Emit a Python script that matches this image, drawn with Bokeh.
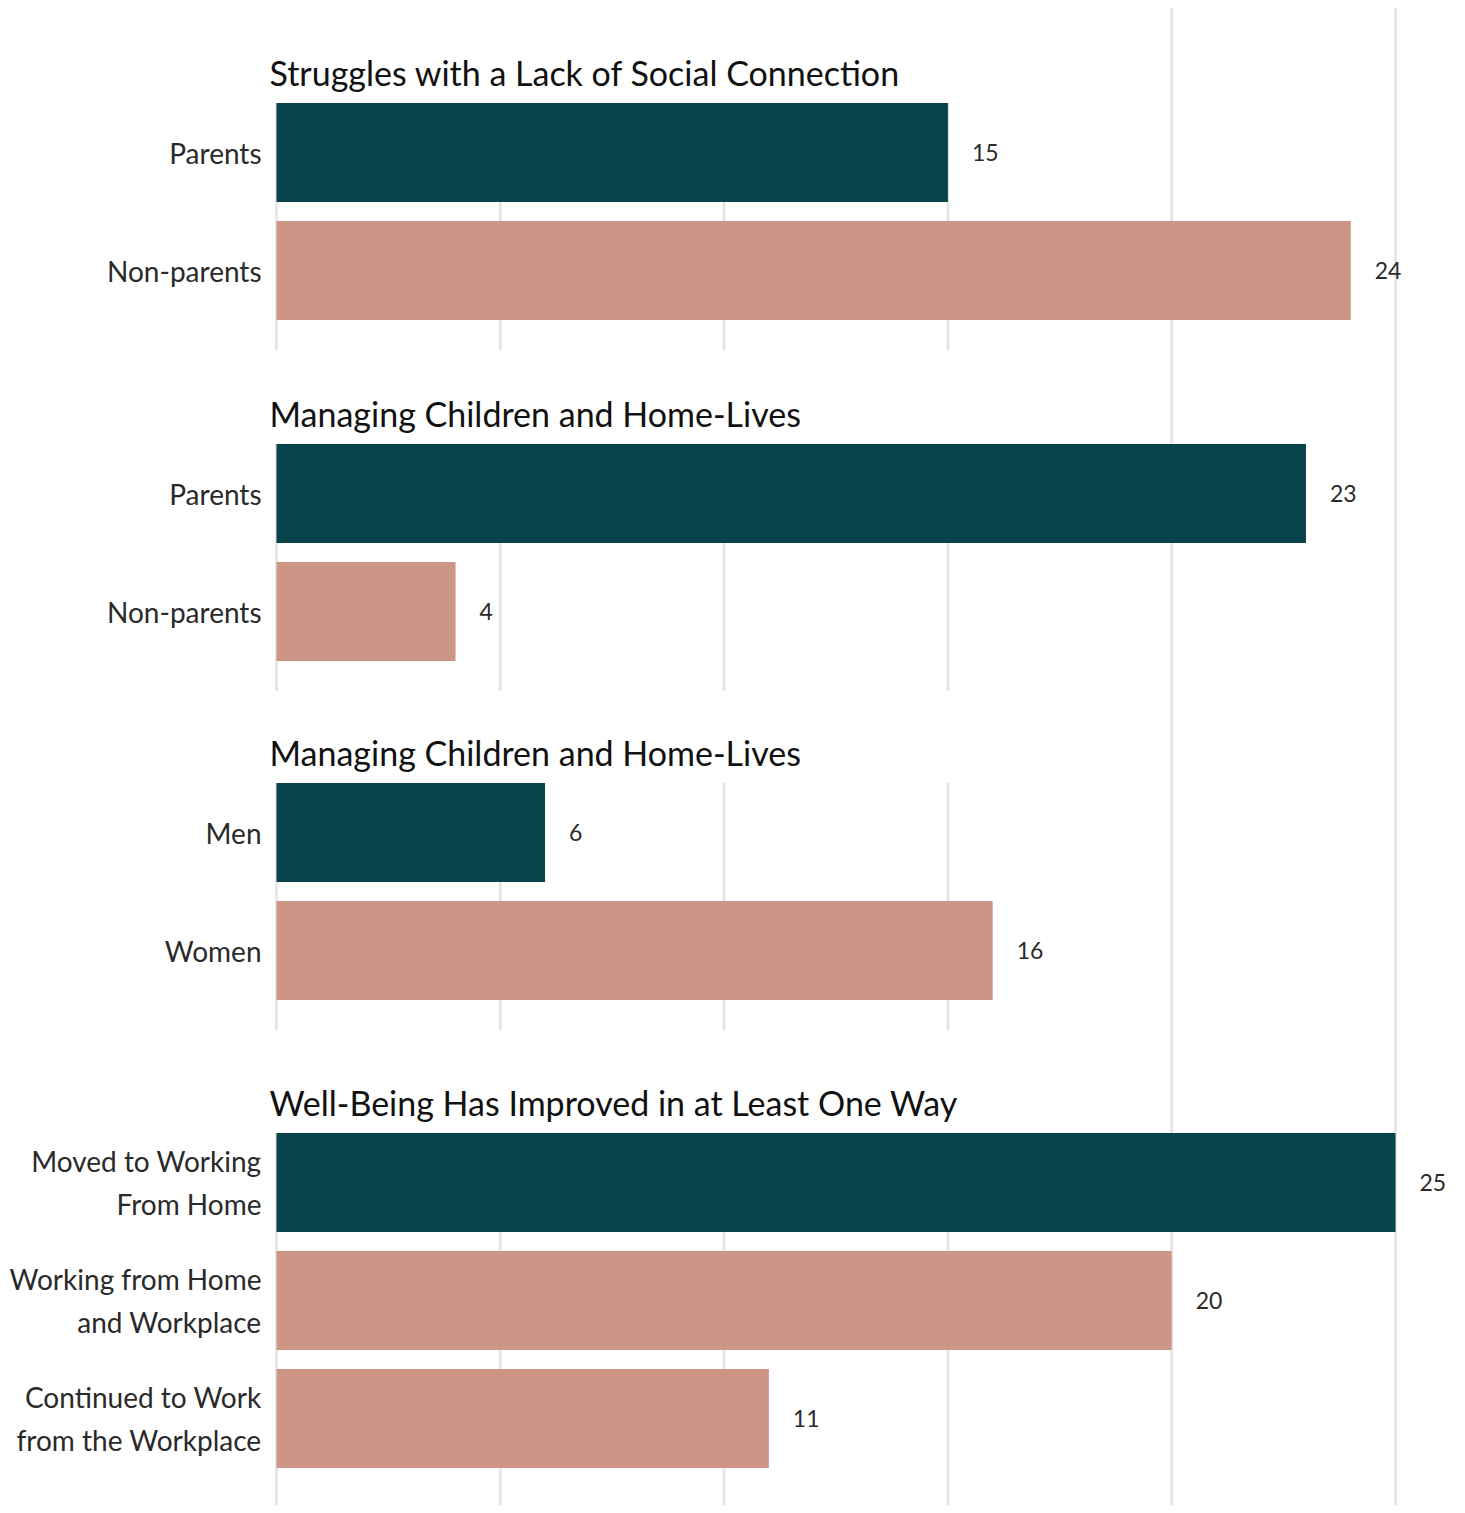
from bokeh.plotting import figure
from bokeh.models import Range1d, ColumnDataSource
from bokeh.core.properties import value
from bokeh.embed import file_html
from bokeh.resources import INLINE

# ---------------- data ----------------
TITLES = [
    "Struggles with a Lack of Social Connection",
    "Managing Children and Home-Lives",
    "Managing Children and Home-Lives",
    "Well-Being Has Improved in at Least One Way",
]
CATS_1 = ["Parents", "Non-parents"]
VALS_1 = [15, 24]
CATS_2 = ["Parents", "Non-parents"]
VALS_2 = [23, 4]
CATS_3 = ["Men", "Women"]
VALS_3 = [6, 16]
CATS_4 = ["Moved to Working\nFrom Home", "Working from Home\nand Workplace",
          "Continued to Work\nfrom the Workplace"]
VALS_4 = [25, 20, 11]
TICKS = [0, 5, 10, 15, 20, 25]

PANELS = [(TITLES[0], CATS_1, VALS_1), (TITLES[1], CATS_2, VALS_2),
          (TITLES[2], CATS_3, VALS_3), (TITLES[3], CATS_4, VALS_4)]

# ---------------- layout (pixels) ----------------
W, H = 1457, 1505
ZERO_PX = 276                    # x pixel of value 0
PX_PER_UNIT = 1119 / 25
TOP, BOTTOM = 0, H
FIRST_TITLE = 72
TITLE_TO_BAR = 80
PITCH = 118
BAR_H = 99
GAPS = [143, 141, 152]

TEAL = "#07434A"
SALMON = "#CC9585"
GRID = "#e6e6e6"
FONT = "Lato"

xs = -ZERO_PX / PX_PER_UNIT
xe = xs + W / PX_PER_UNIT

p = figure(width=W, height=H, output_backend="svg", toolbar_location=None,
           x_range=Range1d(xs, xe), y_range=Range1d(BOTTOM, TOP),
           min_border=0)
p.axis.visible = False
p.grid.visible = False
p.outline_line_color = None
p.background_fill_color = "white"

bar_y, bar_v, bar_c, lab_t = [], [], [], []
title_y = []
grid_x0, grid_y0, grid_y1 = [], [], []
y = FIRST_TITLE
for i, (title, cats, vals) in enumerate(PANELS):
    title_y.append(y)
    ys = [y + TITLE_TO_BAR + j * PITCH for j in range(len(cats))]
    for j, (c, v) in enumerate(zip(cats, vals)):
        bar_y.append(ys[j])
        bar_v.append(v)
        bar_c.append(TEAL if j == 0 else SALMON)
        lab_t.append(c)
    top = ys[0] - BAR_H / 2
    bot = ys[-1] + BAR_H / 2 + 30 if i < len(PANELS) - 1 else BOTTOM
    for t in TICKS[:4]:
        grid_x0.append(t)
        grid_y0.append(top)
        grid_y1.append(bot)
    if i < len(GAPS):
        y = ys[-1] + GAPS[i]

for t in TICKS[4:]:
    grid_x0.append(t)
    grid_y0.append(TOP + 8)
    grid_y1.append(BOTTOM)

p.segment(x0=grid_x0, x1=grid_x0, y0=grid_y0, y1=grid_y1,
          line_color=GRID, line_width=3)

src = ColumnDataSource(dict(y=bar_y, v=bar_v, c=bar_c, lab=lab_t,
                            vt=[str(v) for v in bar_v]))
p.hbar(y="y", left=0, right="v", height=BAR_H, fill_color="c",
       line_color=None, source=src)

p.text(x=0, y="y", text="lab", source=src, x_offset=-15,
       text_align="right", text_baseline="middle",
       text_font=value(FONT), text_font_size="28px", text_color="#2a2a2a",
       text_line_height=1.25)
p.text(x="v", y="y", text="vt", source=src, x_offset=24,
       text_align="left", text_baseline="middle",
       text_font=value(FONT), text_font_size="23px", text_color="#2a2a2a")

p.text(x=[0] * len(TITLES), y=title_y, text=TITLES, x_offset=-7,
       text_align="left", text_baseline="middle",
       text_font=value(FONT), text_font_size="34px", text_color="#111111")

open("out.html", "w").write(file_html(p, INLINE))
